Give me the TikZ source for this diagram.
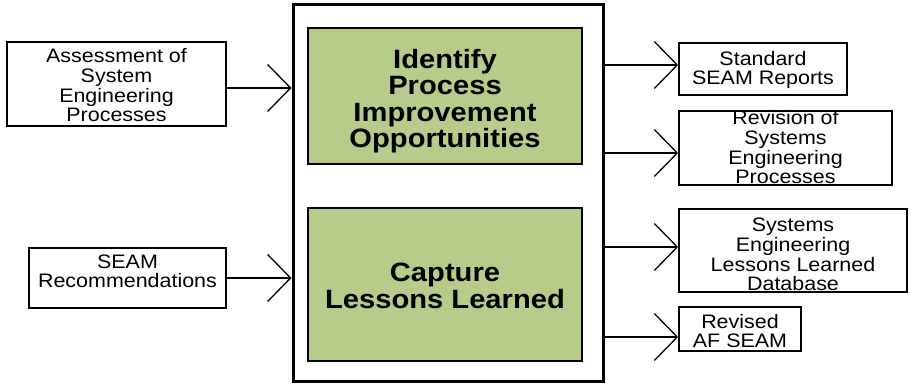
\documentclass[tikz,border=0pt]{standalone}
\usepackage{fontspec}
\setmainfont{Liberation Sans}
\newfontfamily\boxfont[FakeStretch=1.1]{Liberation Sans}
\usetikzlibrary{arrows.meta, positioning}
\definecolor{stepgreen}{HTML}{B7CB8A}

\begin{document}
\begin{tikzpicture}[x=1pt, y=1pt,
      iobox/.style={draw, line width=1.6pt, inner sep=0pt, align=center,
        text depth=0pt, font=\boxfont\fontsize{19.5}{19.7}\selectfont},
      stepbox/.style={draw, line width=2pt, fill=stepgreen, inner sep=0pt,
        align=center, text depth=0pt,
        font=\boxfont\bfseries\fontsize{26.5}{26.5}\selectfont},
      flow/.style={line width=1.3pt, -{Straight Barb[length=23pt, width=47pt]}}
    ]
      \useasboundingbox (0,0) rectangle (910,388);
      % central activity box
      \node[draw, line width=3pt, minimum width=310pt, minimum height=377pt]
        (outer) at (448,194.5) {};
      \node[stepbox, minimum width=274pt, minimum height=136pt,
        text height=104pt] (identify)
        at (445,292) {Identify\\Process\\Improvement\\Opportunities};
      \node[stepbox, minimum width=274pt, minimum height=153pt,
        text height=48pt] (capture)
        at (445,103.5) {Capture\\Lessons Learned};
      % inputs
      \node[iobox, minimum width=219pt, minimum height=84pt,
        text height=76pt] (assessment)
        at (116.5,304) {Assessment of\\System\\Engineering\\Processes};
      \node[iobox, minimum width=197pt, minimum height=60pt,
        text height=20pt] (seamrec)
        at (127.5,110) {SEAM\\Recommendations};
      % outputs
      \node[iobox, minimum width=168pt, minimum height=52pt,
        text height=32pt] (stdreports)
        at (763,319) {Standard\\SEAM Reports};
      \node[iobox, minimum width=213pt, minimum height=74pt,
        text height=72pt] (revision)
        at (785.5,240) {Revision of\\Systems\\Engineering\\Processes};
      \node[iobox, minimum width=228pt, minimum height=83pt,
        text height=81pt] (lldb)
        at (793,137.5) {Systems\\Engineering\\Lessons Learned\\Database};
      \node[iobox, minimum width=122pt, minimum height=44pt,
        text height=38pt] (revseam)
        at (740,59) {Revised\\AF SEAM};
      % connectors
      \draw[flow] (assessment.east |- 0,300) -- (outer.west |- 0,300);
      \draw[flow] (seamrec.east |- 0,110) -- (outer.west |- 0,110);
      \draw[flow] (outer.east |- 0,323) -- (stdreports.west |- 0,323);
      \draw[flow] (outer.east |- 0,235) -- (revision.west |- 0,235);
      \draw[flow] (outer.east |- 0,141) -- (lldb.west |- 0,141);
      \draw[flow] (outer.east |- 0,51) -- (revseam.west |- 0,51);
    \end{tikzpicture}
\end{document}
